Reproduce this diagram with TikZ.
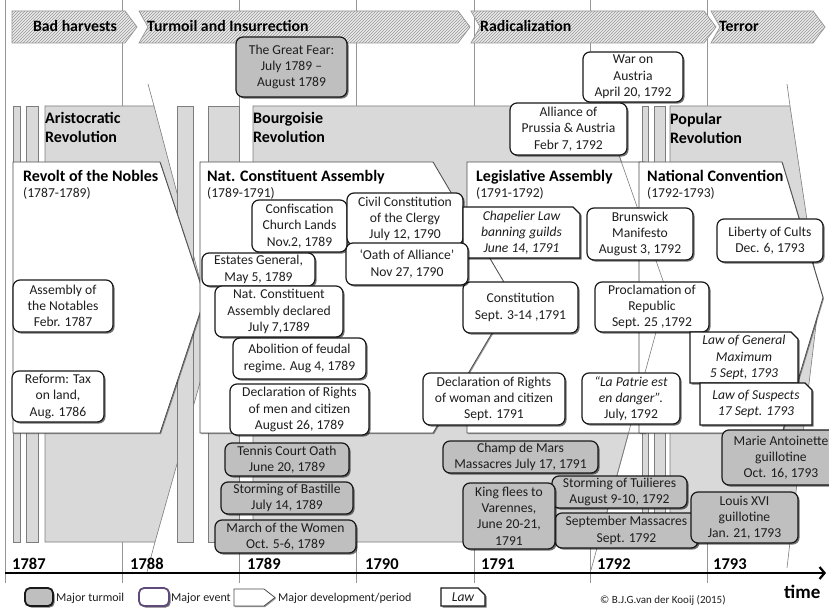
\documentclass[tikz,border=0pt]{standalone}
\usepackage{fontspec}
\setmainfont{Carlito}
\usetikzlibrary{shadows,patterns,arrows.meta}

\definecolor{turmoilgray}{RGB}{191,191,191}
\definecolor{bandgray}{RGB}{217,217,217}
\definecolor{bandedge}{RGB}{125,125,125}
\definecolor{gridgray}{RGB}{150,150,150}
\definecolor{ink}{RGB}{30,30,30}
\definecolor{eventpurple}{RGB}{96,74,123}
\definecolor{hatchfill}{RGB}{236,236,236}
\definecolor{hatchline}{RGB}{150,150,150}

\newcommand\boxfont{\fontsize{13.6}{16.3}\selectfont}
\newcommand\titlefont{\fontsize{16}{19}\selectfont\bfseries}

% rounded event box given by its corners (x0,y0) and (x1,y1)
\newcommand\placebox[7]{%
  \pgfmathsetmacro\plx{(#3+#5)/2}%
  \pgfmathsetmacro\ply{(#4+#6)/2}%
  \pgfmathsetmacro\plw{#5-#3}%
  \pgfmathsetmacro\plh{#6-#4}%
  \node[#1, minimum width=\plw pt, minimum height=\plh pt] (#2) at (\plx,\ply) {#7};}

% law box with a snipped top-right corner
\newcommand\placelaw[6]{%
  \draw[lawshape] (#2,#3) -- (#4-7,#3) -- (#4,#3+7) -- (#4,#5) -- (#2,#5) -- cycle;
  \pgfmathsetmacro\plx{(#2+#4)/2}%
  \pgfmathsetmacro\ply{(#3+#5)/2}%
  \node[lawtext] (#1) at (\plx,\ply) {#6};}

\tikzset{
  softshadow/.style={drop shadow={shadow xshift=1.6pt, shadow yshift=-1.6pt, opacity=0.55, fill=black}},
  tlbase/.style={rounded corners=7pt, draw=black!90, line width=1.2pt, align=center,
    inner sep=1pt, text=ink, font=\boxfont, softshadow},
  eventbox/.style={tlbase, fill=white},
  turmoilbox/.style={tlbase, fill=turmoilgray},
  lawshape/.style={draw=black!90, line width=1.2pt, fill=white, softshadow},
  lawtext/.style={align=center, inner sep=0pt, text=ink, font=\boxfont\itshape},
  periodshape/.style={draw=black!70, line width=0.8pt, fill=white,
    drop shadow={shadow xshift=1pt, shadow yshift=-1.2pt, opacity=0.4, fill=black}},
  bandshape/.style={draw=bandedge, line width=0.6pt, fill=bandgray},
  bandline/.style={draw=bandedge, line width=0.6pt},
  headshape/.style={draw=hatchline, line width=0.7pt, preaction={fill=hatchfill},
    pattern=north east lines, pattern color=hatchline},
  headtext/.style={font=\fontsize{15.8}{18}\selectfont\bfseries, inner sep=0pt},
  bandtitle/.style={font=\titlefont, align=left, anchor=north west, inner sep=0pt},
  periodtitle/.style={font=\titlefont, anchor=base west, inner sep=0pt},
  periodyears/.style={font=\boxfont, anchor=base west, inner sep=0pt, text=ink},
  gridrule/.style={draw=gridgray, line width=0.7pt},
  yearlabel/.style={font=\fontsize{16.5}{19}\selectfont\bfseries, anchor=base west, inner sep=0pt},
  legendtext/.style={font=\fontsize{12}{14}\selectfont, anchor=base west, inner sep=0pt, text=ink},
}

\begin{document}
\begin{tikzpicture}[x=1pt,y=-1pt]
\useasboundingbox (0,0) rectangle (829,609);
\clip (0,0) rectangle (829,609);
\fill[white] (0,0) rectangle (829,609);

% year grid
\foreach \gx in {5,122,239,356,474,590,707}
  \draw[gridrule] (\gx,0) -- (\gx,583);

% phase banner
\draw[headshape] (12,11) -- (125,11) -- (137,27) -- (125,43) -- (12,43) -- cycle;
\draw[headshape] (139,11) -- (458,11) -- (470,27) -- (458,43) -- (139,43) -- (148,27) -- cycle;
\draw[headshape] (471,11) -- (704,11) -- (716,27) -- (704,43) -- (471,43) -- (480,27) -- cycle;
\draw[headshape] (711,11) -- (813,11) -- (825,27) -- (813,43) -- (711,43) -- (720,27) -- cycle;
\node[headtext, anchor=base] (hBad) at (75,32) {Bad harvests};
\node[headtext, anchor=base west] (hTurm) at (147,32) {Turmoil and Insurrection};
\node[headtext, anchor=base west] (hRad) at (480,32) {Radicalization};
\node[headtext, anchor=base west] (hTer) at (719,32) {Terror};

% revolutions (grey bands)
\draw[bandshape] (13,106) rectangle (20,542);
\draw[bandshape] (26,106) rectangle (38,542);
\draw[bandshape] (45,106) -- (154,106) -- (214,333) -- (155,542) -- (45,542) -- cycle;
\draw[bandline] (148,84) -- (154,106) (155,542) -- (147,572);

\draw[bandshape] (177,106) rectangle (193,542);
\draw[bandshape] (208,106) rectangle (239,542);
\draw[bandshape] (253,106) -- (602,106) -- (667,292) -- (599,542) -- (253,542) -- cycle;

\draw[bandshape] (642,106) rectangle (648,542);
\draw[bandshape] (654,106) rectangle (665,542);
\draw[bandshape] (670,106) -- (790,106) -- (819,300) -- (790,542) -- (670,542) -- cycle;
\draw[bandline] (787,84) -- (790,106) (790,542) -- (787,568);

% developments (white periods)
\draw[periodshape] (467,162) -- (645,162) -- (690,297.5) -- (645,433) -- (467,433) -- cycle;
\draw[periodshape] (639,162) -- (782,162) -- (823,297.5) -- (782,433) -- (639,433) -- cycle;
\draw[periodshape] (13,162) -- (160,162) -- (205,297.5) -- (160,433) -- (13,433) -- cycle;
\draw[periodshape] (200,162) -- (433,162) -- (513,297.5) -- (433,433) -- (200,433) -- cycle;

% outline of the bourgeois band, visible across the periods
\draw[bandline] (594,84) -- (667,292) -- (591,570);

% band and period titles
\node[bandtitle] (tAristo) at (45,112.5) {Aristocratic\\Revolution};
\node[bandtitle] (tBourg) at (253,112.5) {Bourgoisie\\Revolution};
\node[bandtitle] (tPop) at (670,113) {Popular\\Revolution};

\node[periodtitle] (tRevolt) at (23,182) {Revolt of the Nobles};
\node[periodyears] (yRevolt) at (23,197.5) {(1787-1789)};
\node[periodtitle] (tNCA) at (207,182) {Nat. Constituent Assembly};
\node[periodyears] (yNCA) at (207,197.5) {(1789-1791)};
\node[periodtitle] (tLeg) at (476,182) {Legislative Assembly};
\node[periodyears] (yLeg) at (476,197.5) {(1791-1792)};
\node[periodtitle] (tConv) at (647,182) {National Convention};
\node[periodyears] (yConv) at (647,197.5) {(1792-1793)};

% events
\placebox{turmoilbox}{nFear}{236}{37}{347}{97}{The Great Fear:\\July 1789 –\\August 1789}
\placebox{eventbox}{nWar}{583}{52}{683}{102}{War on\\Austria\\April 20, 1792}
\placebox{eventbox}{nAlliance}{510}{103}{627}{155}{Alliance of\\Prussia \& Austria\\Febr 7, 1792}

\placebox{eventbox}{nNotables}{13}{280}{113}{332}{Assembly of\\the Notables\\Febr. 1787}
\placebox{eventbox}{nReform}{12}{371}{104}{422}{Reform: Tax\\on land,\\Aug. 1786}

\placebox{eventbox}{nConfisc}{252}{200}{347}{252}{Confiscation\\Church Lands\\Nov.2, 1789}
\placebox{eventbox}{nCivil}{347}{193}{463}{245}{Civil Constitution\\of the Clergy\\July 12, 1790}
\placebox{eventbox}{nEstates}{202}{253}{315}{286}{Estates General,\\May 5, 1789}
\placebox{eventbox}{nConstit}{463}{282}{578}{333}{Constitution\\Sept. 3-14 ,1791}
\placelaw{lChap}{463}{207}{580}{258}{Chapelier Law\\banning guilds\\June 14, 1791}
\placebox{eventbox}{nOath}{346}{243}{468}{285}{‘Oath of Alliance’\\Nov 27, 1790}
\placebox{eventbox}{nNCAdecl}{215}{286}{343}{337}{Nat. Constituent\\Assembly declared\\July 7,1789}
\placebox{eventbox}{nAbol}{233}{338}{366}{379}{Abolition of feudal\\regime. Aug 4, 1789}
\placebox{eventbox}{nDeclMen}{230}{384}{369}{435}{Declaration of Rights\\of men and citizen\\August 26, 1789}
\placebox{eventbox}{nDeclWoman}{423}{373}{565}{425}{Declaration of Rights\\of woman and citizen\\Sept. 1791}

\placebox{eventbox}{nBrunsw}{587}{208}{693}{260}{Brunswick\\Manifesto\\August 3, 1792}
\placebox{eventbox}{nProclam}{595}{282}{709}{332}{Proclamation of\\Republic\\Sept. 25 ,1792}
\placebox{eventbox}{nPatrie}{582}{373}{680}{424}{\itshape “La Patrie est\\\itshape en danger”.\\July, 1792}
\placebox{eventbox}{nLiberty}{717}{219}{823}{262}{Liberty of Cults\\Dec. 6, 1793}
\placelaw{lMax}{690}{332}{798}{383}{Law of General\\Maximum\\5 Sept, 1793}
\placelaw{lSusp}{700}{383}{812}{425}{Law of Suspects\\17 Sept. 1793}

\placebox{turmoilbox}{nTennis}{225}{443}{349}{476}{Tennis Court Oath\\June 20, 1789}
\placebox{turmoilbox}{nBastille}{221}{482}{353}{514}{Storming of Bastille\\July 14, 1789}
\placebox{turmoilbox}{nMarch}{215}{520}{356}{553}{March of the Women\\Oct. 5-6, 1789}
\placebox{turmoilbox}{nChamp}{443}{441}{598}{473}{Champ de Mars\\Massacres July 17, 1791}
\placebox{turmoilbox}{nSeptMass}{555}{513}{698}{548}{September Massacres\\Sept. 1792}
\placebox{turmoilbox}{nTuil}{552}{476}{687}{508}{Storming of Tuilieres\\August 9-10, 1792}
\placebox{turmoilbox}{nKing}{463}{483}{555}{549}{King flees to\\Varennes,\\June 20-21,\\1791}
\placebox{turmoilbox}{nMarie}{722}{430}{840}{485}{Marie Antoinette\\guillotine\\Oct. 16, 1793}
\placebox{turmoilbox}{nLouis}{691}{492}{798}{543}{Louis XVI\\guillotine\\Jan. 21, 1793}

% time axis
\coordinate (axisL) at (5,573);
\coordinate (axisR) at (826,573);
\draw[line width=2.2pt, -{Straight Barb[length=5pt, width=12pt]}] (axisL) -- (axisR);
\node[yearlabel] (y1787) at (12,569) {1787};
\node[yearlabel] (y1788) at (130,569) {1788};
\node[yearlabel] (y1789) at (247,569) {1789};
\node[yearlabel] (y1790) at (365,569) {1790};
\node[yearlabel] (y1791) at (481,569) {1791};
\node[yearlabel] (y1792) at (597,569) {1792};
\node[yearlabel] (y1793) at (713,569) {1793};
\node[font=\fontsize{19}{22}\selectfont\bfseries, anchor=base west, inner sep=0pt] (timeLabel) at (784,598) {time};

% legend
\node[turmoilbox, line width=1.8pt, rounded corners=5pt, minimum width=28pt, minimum height=18pt] (legTurm) at (39,597) {};
\node[legendtext] (legTurmText) at (56,601.5) {Major turmoil};
\node[eventbox, draw=eventpurple, line width=1.8pt, rounded corners=5pt, minimum width=30pt, minimum height=18pt] (legEvt) at (154,597) {};
\node[legendtext] (legEvtText) at (171,601.5) {Major event};
\draw[periodshape] (234,589) -- (264,589) -- (275,597.5) -- (264,606) -- (234,606) -- cycle;
\node[legendtext] (legPerText) at (278,601.5) {Major development/period};
\placelaw{legLaw}{441}{588}{485}{606}{Law}
\node[font=\fontsize{11}{13}\selectfont, anchor=base west, inner sep=0pt, text=ink] (credit) at (600,603) {© B.J.G.van der Kooij (2015)};
\end{tikzpicture}
\end{document}
